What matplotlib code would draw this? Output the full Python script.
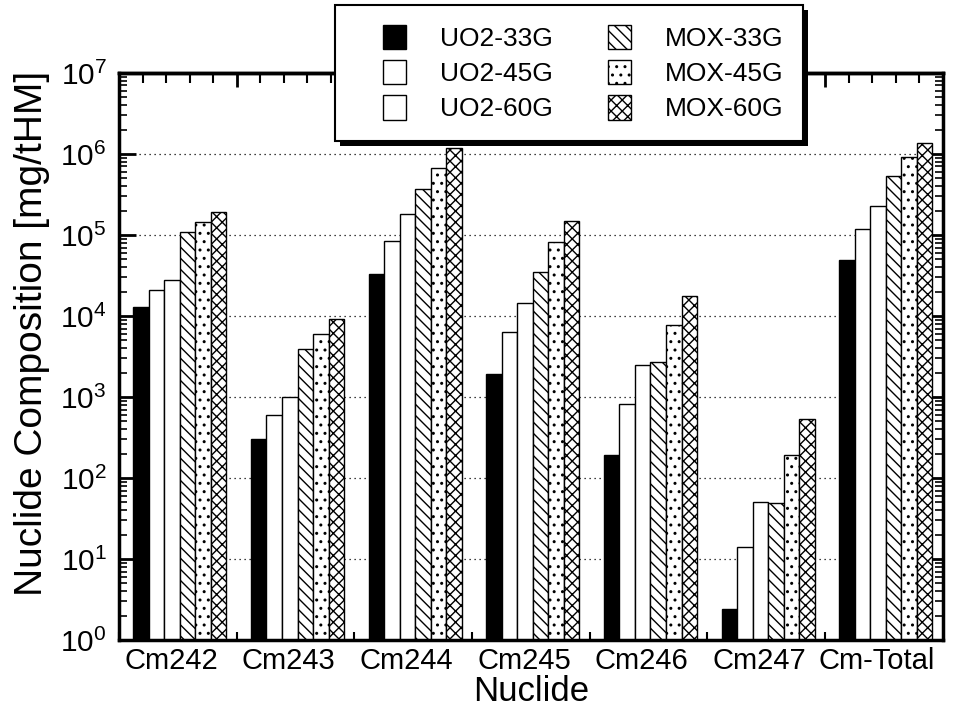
import numpy as np
import matplotlib
matplotlib.use('Agg')
import matplotlib.pyplot as plt
from matplotlib.patches import Patch, Rectangle
from matplotlib.legend_handler import HandlerPatch
from matplotlib.transforms import IdentityTransform
from matplotlib.ticker import LogLocator, FixedLocator, NullFormatter, LogFormatterSciNotation

# data (mg/tHM)
nuclides = ['Cm242', 'Cm243', 'Cm244', 'Cm245', 'Cm246', 'Cm247', 'Cm-Total']
labels = ['UO2-33G', 'UO2-45G', 'UO2-60G', 'MOX-33G', 'MOX-45G', 'MOX-60G']
uo2_33g = [1.3e4, 300, 3.3e4, 1.9e3, 190, 2.4, 4.9e4]
uo2_45g = [2.1e4, 600, 8.5e4, 6.3e3, 820, 14, 1.17e5]
uo2_60g = [2.8e4, 1.0e3, 1.8e5, 1.45e4, 2.5e3, 51, 2.3e5]
mox_33g = [1.1e5, 3.9e3, 3.7e5, 3.5e4, 2.7e3, 49, 5.4e5]
mox_45g = [1.45e5, 6.0e3, 6.7e5, 8.2e4, 7.8e3, 190, 9.2e5]
mox_60g = [1.9e5, 9.2e3, 1.2e6, 1.47e5, 1.75e4, 540, 1.36e6]
values = [uo2_33g, uo2_45g, uo2_60g, mox_33g, mox_45g, mox_60g]
decades = 10.0 ** np.arange(0, 8)

# bar fill / hatch per series
facecolors = ['black', 'white', 'white', 'white', 'white', 'white']
hatches = [None, None, None, '\\\\\\', '..', 'xxx']

plt.rcParams['font.family'] = ['Liberation Sans', 'DejaVu Sans']
plt.rcParams['mathtext.fontset'] = 'custom'
plt.rcParams['mathtext.rm'] = 'Liberation Sans'
plt.rcParams['mathtext.it'] = 'Liberation Sans:italic'
plt.rcParams['hatch.linewidth'] = 1.0

fig = plt.figure(figsize=(9.61, 7.08), dpi=100)
ax = fig.add_axes([0.124, 0.096, 0.857, 0.801])

bar_w = 0.132
x = np.arange(len(nuclides))
for i, (vals, fc, h) in enumerate(zip(values, facecolors, hatches)):
    ax.bar(x + 0.12 + (i + 0.5) * bar_w, vals, width=bar_w,
           facecolor=fc, edgecolor='black', hatch=h, linewidth=1.0, zorder=2)

ax.set_yscale('log')
ax.set_ylim(1, 1e7)
ax.set_xlim(0, len(nuclides))

# y ticks: decades + minor, inward on both sides
ax.yaxis.set_major_locator(FixedLocator(decades))
ax.yaxis.set_minor_locator(LogLocator(base=10, subs=np.arange(2, 10), numticks=100))
ax.yaxis.set_minor_formatter(NullFormatter())
ax.yaxis.set_major_formatter(LogFormatterSciNotation())
ax.tick_params(axis='y', which='both', direction='in', left=True, right=True,
               labelsize=21.5, pad=9)
ax.tick_params(axis='y', which='major', length=12, width=2)
ax.tick_params(axis='y', which='minor', length=6, width=1.2)

# x labels slightly right of group start, short ticks at group edges and 0.4
ax.xaxis.set_major_locator(FixedLocator(x + 0.44))
ax.set_xticklabels(nuclides)
ax.xaxis.set_minor_locator(FixedLocator(np.concatenate([x, x + 0.4])))
ax.tick_params(axis='x', which='major', length=0, labelsize=21, pad=5)
ax.tick_params(axis='x', which='minor', direction='in', length=6, width=1.5)

top = ax.secondary_xaxis('top')
top.xaxis.set_major_locator(FixedLocator(np.arange(0, 8)))
top.xaxis.set_minor_locator(FixedLocator(np.arange(0, 7.01, 0.2)))
top.xaxis.set_major_formatter(NullFormatter())
top.tick_params(which='major', direction='in', length=10, width=2, labeltop=False)
top.tick_params(which='minor', direction='in', length=7, width=1.5)
top.spines['top'].set_linewidth(2.5)

for s in ax.spines.values():
    s.set_linewidth(2.5)

ax.yaxis.grid(True, which='major', linestyle=(0, (1, 3)), color='black', linewidth=0.9, zorder=0)
ax.set_axisbelow(True)

ax.set_ylabel('Nuclide Composition [mg/tHM]', fontsize=28)
ax.yaxis.set_label_coords(-0.084, 0.54)
ax.set_xlabel('Nuclide', fontsize=25, labelpad=0)


def square_handle(legend, orig_handle, xdescent, ydescent, width, height, fontsize):
    side = height * 0.93
    return Rectangle((width - xdescent - side, -ydescent), side, height)


handles = [Patch(facecolor=fc, edgecolor='black', hatch=h, linewidth=1.0)
           for fc, h in zip(facecolors, hatches)]
leg = ax.legend(handles, labels, ncol=2, loc='upper left',
                bbox_to_anchor=(335 / 961, 1 - 5 / 708), bbox_transform=fig.transFigure,
                borderaxespad=0, fontsize=19, frameon=True, fancybox=False,
                edgecolor='black', framealpha=1, borderpad=0.75,
                handlelength=1.95, handleheight=1.05, handletextpad=1.29,
                columnspacing=1.0, labelspacing=0.34,
                handler_map={Patch: HandlerPatch(patch_func=square_handle)})
leg.get_frame().set_linewidth(1.5)
leg.set_zorder(10)

# heavy drop shadow behind the legend box (same axes, just below the legend)
fig.canvas.draw()
bb = leg.get_window_extent()
shadow = Rectangle((bb.x0 + 5, bb.y0 - 5), bb.width, bb.height,
                   transform=IdentityTransform(), facecolor='black',
                   edgecolor='none', zorder=9.5, clip_on=False)
ax.add_patch(shadow)

fig.savefig('out.png', dpi=100)
